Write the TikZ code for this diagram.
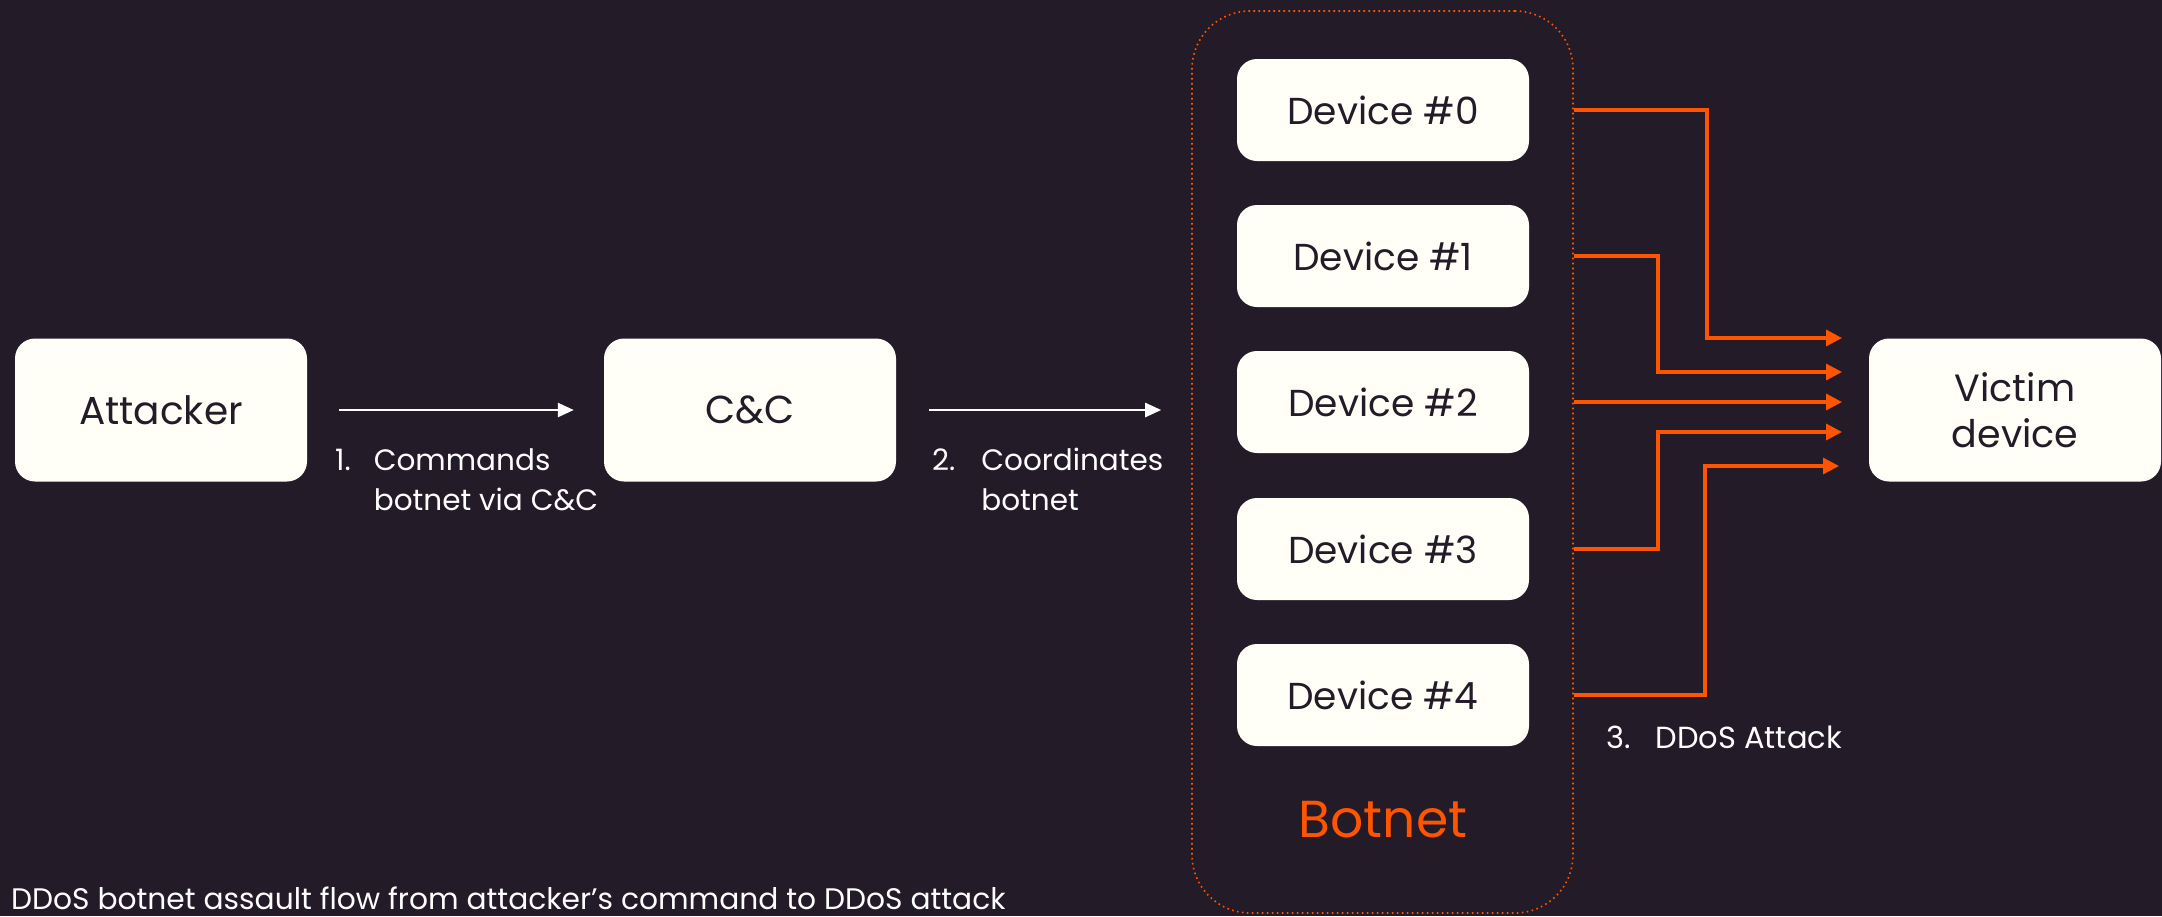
\documentclass[tikz,border=0pt]{standalone}
\usepackage{fontspec}
\setmainfont{Poppins}
\usepackage{tikz}
\usetikzlibrary{positioning,arrows.meta}

\definecolor{bgdark}{HTML}{241B28}
\definecolor{boxfill}{HTML}{FFFFF7}
\definecolor{attackorange}{HTML}{FF5500}

\begin{document}
\begin{tikzpicture}[x=1pt,y=-1pt]
\tikzstyle{box}=[rectangle, rounded corners=20pt, fill=boxfill, text=bgdark, minimum width=292pt, minimum height=143pt, inner sep=0pt, font=\fontsize{39}{46}\selectfont]
\tikzstyle{device}=[box, minimum width=292pt, minimum height=102pt, font=\fontsize{37.5}{46}\selectfont]
\tikzstyle{botnetbox}=[rectangle, rounded corners=58pt, draw=attackorange, line width=1.6pt, dash pattern=on 1.6pt off 3.4pt, minimum width=381pt, minimum height=902pt, inner sep=0pt]
\tikzstyle{steplabel}=[anchor=north west, text=white, inner sep=0pt, font=\fontsize{29.5}{40}\selectfont]
\tikzstyle{cmd}=[-{Triangle[length=16pt,width=14pt]}, white, line width=2.5pt]
\tikzstyle{attack}=[-{Triangle[length=16pt,width=16pt]}, attackorange, line width=3.2pt]
\fill[bgdark] (0,0) rectangle (2162,916);
\useasboundingbox (0,0) rectangle (2162,916);
	\node[box] (attacker) at (161,410) {Attacker};
	\node[box] (cc) at (750,410) {C\&C};
	\node[botnetbox] (botnet) at (1382.5,462) {};
	\node[device] (d0) at (1383,110) {Device \#0};
	\node[device] (d1) at (1383,256) {Device \#1};
	\node[device] (d2) at (1383,402) {Device \#2};
	\node[device] (d3) at (1383,549) {Device \#3};
	\node[device] (d4) at (1383,695) {Device \#4};
	\node[box, align=center, font=\fontsize{38}{46}\selectfont] (victim) at (2015,410) {Victim\\device};
	\node[text=attackorange, font=\fontsize{52}{60}\selectfont] (botnetname) at (1383,820) {Botnet};

	\node[steplabel] (lbl1) at (335,442) {\begin{tabular}{@{}l@{\hspace{23pt}}l@{}}1.&Commands\\&botnet via C\&C\end{tabular}};
	\node[steplabel] (lbl2) at (932,442) {\begin{tabular}{@{}l@{\hspace{26pt}}l@{}}2.&Coordinates\\&botnet\end{tabular}};
	\node[steplabel, font=\fontsize{30.5}{40}\selectfont] (lbl3) at (1606,720) {\begin{tabular}{@{}l@{\hspace{25pt}}l@{}}3.&DDoS Attack\end{tabular}};
	\node[anchor=south west, text=white, inner sep=0pt, font=\fontsize{29.7}{34}\selectfont] (caption) at (11,910) {DDoS botnet assault flow from attacker’s command to DDoS attack};

	\coordinate (in0) at (1842,338);
	\coordinate (in1) at (1842,372);
	\coordinate (in2) at (1842,402);
	\coordinate (in3) at (1842,432);
	\coordinate (in4) at (1839,466);

	\path
		(attacker) edge [cmd, shorten <=32pt, shorten >=30pt] (cc)
		(cc.east) edge [cmd, shorten <=33pt, shorten >=30pt] (cc.east -| botnet.west);

	\draw[attack] (d0 -| botnet.east) -| (1707,338) -- (in0);
	\draw[attack] (d1 -| botnet.east) -| (1658,372) -- (in1);
	\draw[attack] (d2 -| botnet.east) -- (in2);
	\draw[attack] (d3 -| botnet.east) -| (1658,432) -- (in3);
	\draw[attack] (d4 -| botnet.east) -| (1705,466) -- (in4);
\end{tikzpicture}
\end{document}
